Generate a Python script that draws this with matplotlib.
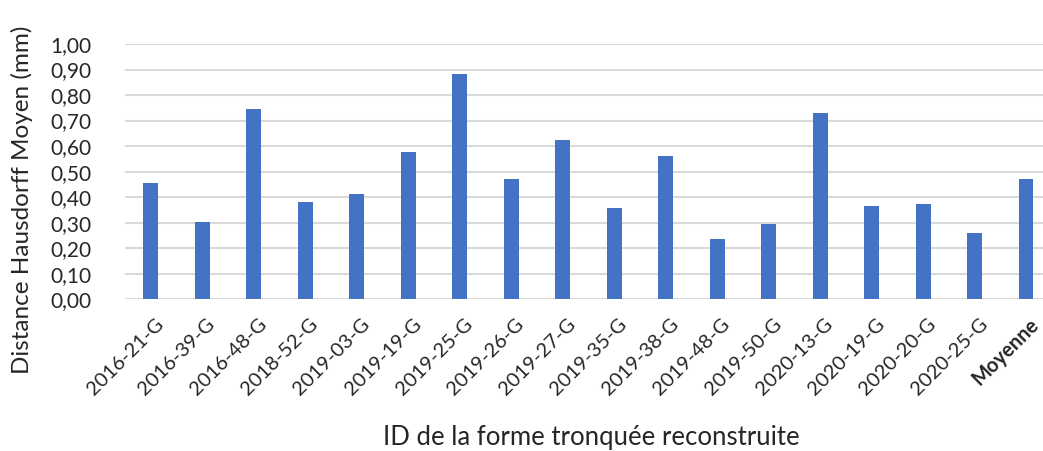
import matplotlib
matplotlib.use("Agg")
import matplotlib.pyplot as plt
from matplotlib.ticker import FuncFormatter
from matplotlib.transforms import ScaledTranslation

categories = ["2016-21-G", "2016-39-G", "2016-48-G", "2018-52-G", "2019-03-G",
              "2019-19-G", "2019-25-G", "2019-26-G", "2019-27-G", "2019-35-G",
              "2019-38-G", "2019-48-G", "2019-50-G", "2020-13-G", "2020-19-G",
              "2020-20-G", "2020-25-G", "Moyenne"]
distances = [0.455, 0.302, 0.745, 0.381, 0.414, 0.576, 0.884, 0.470, 0.624,
             0.358, 0.560, 0.236, 0.294, 0.730, 0.365, 0.373, 0.261, 0.471]
yticks = [0.0, 0.1, 0.2, 0.3, 0.4, 0.5, 0.6, 0.7, 0.8, 0.9, 1.0]

plt.rcParams['font.family'] = ['Lato', 'DejaVu Sans']

fig = plt.figure(figsize=(10.43, 4.51), dpi=100)
ax = fig.add_axes([125 / 1043, 151.7 / 451, 1 - 125 / 1043, (299.3 - 44) / 451])

x = list(range(len(categories)))
ax.bar(x, distances, width=0.29, color="#4472C4", zorder=3)

ax.set_ylim(0, 1.0)
ax.set_xlim(-0.5, 17.33)
ax.set_yticks(yticks)
ax.yaxis.set_major_formatter(FuncFormatter(lambda v, p: f"{v:.2f}".replace(".", ",")))
ax.grid(axis="y", color="#D9D9D9", linewidth=1.5, zorder=0)
ax.set_axisbelow(True)
for s in ax.spines.values():
    s.set_visible(False)

ax.tick_params(axis="y", length=0, pad=24, labelsize=15, labelcolor="#262626")
ax.tick_params(axis="x", length=0, pad=16, labelsize=14.5, labelcolor="#262626")
ax.set_xticks(x)
ax.set_xticklabels(categories, rotation=45, ha="right", va="center",
                   rotation_mode="anchor")
shift = ScaledTranslation(10 / 100, 0, fig.dpi_scale_trans)
for lbl in ax.get_xticklabels():
    lbl.set_transform(lbl.get_transform() + shift)
ax.get_xticklabels()[-1].set_fontweight("bold")

fig.text(22 / 1043, 1 - 200 / 451, "Distance Hausdorff Moyen (mm)", rotation=90,
         ha="center", va="center", fontsize=17.5, color="#262626")
fig.text(591 / 1043, 1 - 438 / 451, "ID de la forme tronquée reconstruite",
         ha="center", va="center", fontsize=18.5, color="#262626")

fig.savefig("out.png", dpi=100)
